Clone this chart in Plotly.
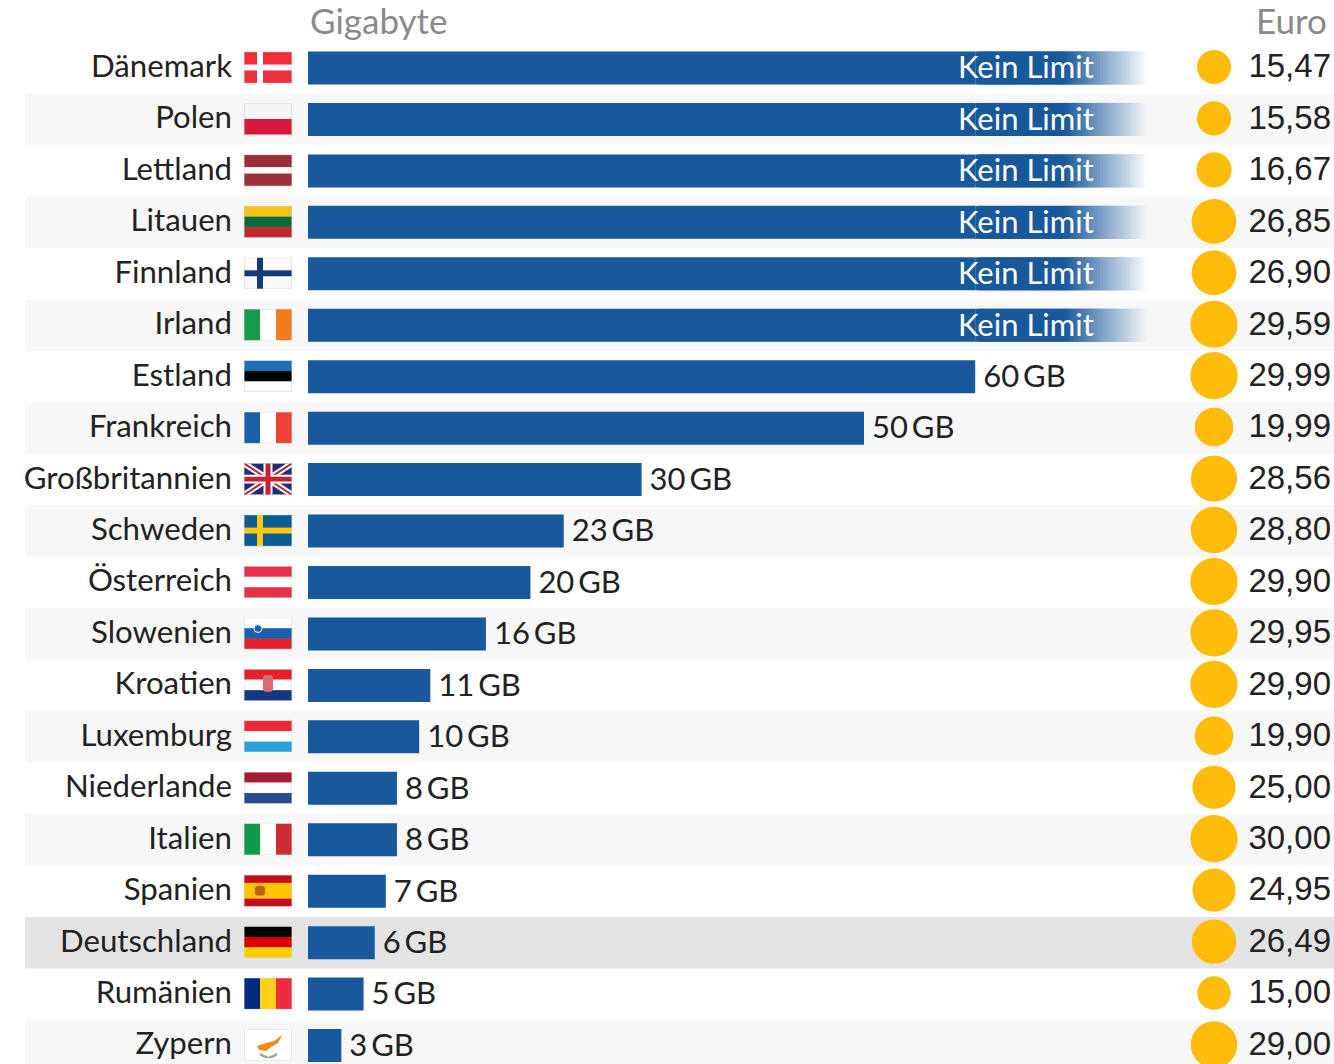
import base64
import plotly.graph_objects as go

# ---------- data ----------
countries = ["Dänemark","Polen","Lettland","Litauen","Finnland","Irland","Estland","Frankreich",
             "Großbritannien","Schweden","Österreich","Slowenien","Kroatien","Luxemburg",
             "Niederlande","Italien","Spanien","Deutschland","Rumänien","Zypern"]
gigabyte = [None,None,None,None,None,None,60,50,30,23,20,16,11,10,8,8,7,6,5,3]
gb_labels = ["Kein Limit"]*6 + ["60\u2009GB","50\u2009GB","30\u2009GB","23\u2009GB","20\u2009GB","16\u2009GB",
             "11\u2009GB","10\u2009GB","8\u2009GB","8\u2009GB","7\u2009GB","6\u2009GB","5\u2009GB","3\u2009GB"]
euro = [15.47,15.58,16.67,26.85,26.90,29.59,29.99,19.99,28.56,28.80,29.90,29.95,29.90,19.90,25.00,30.00,24.95,26.49,15.00,29.00]
euro_labels = ["15,47","15,58","16,67","26,85","26,90","29,59","29,99","19,99","28,56","28,80","29,90","29,95",
               "29,90","19,90","25,00","30,00","24,95","26,49","15,00","29,00"]
no_limit_solid = 60   # GB-equivalent length where the fade begins
no_limit_end = 76

# ---------- geometry ----------
W, H = 1334, 1064
PLOT_L = 233
X0_PX, PX_PER_GB = 308, 11.12
ROW_0, ROW_H = 68.0, 51.45
BLUE = (24, 88, 156)
GOLD = "#FDBB0A"

def xpx(px):
    return (px - X0_PX) / PX_PER_GB

def stripes_h(*cols):
    h = 32 / len(cols)
    return "".join(f'<rect x="0" y="{i*h}" width="48" height="{h+.2}" fill="{c}"/>' for i, c in enumerate(cols))

def stripes_v(*cols):
    w = 48 / len(cols)
    return "".join(f'<rect x="{i*w}" y="0" width="{w+.2}" height="32" fill="{c}"/>' for i, c in enumerate(cols))

def cross(bg, fg, t=7):
    return (f'<rect width="48" height="32" fill="{bg}"/><rect x="13" width="{t}" height="32" fill="{fg}"/>'
            f'<rect y="{16-t/2}" width="48" height="{t}" fill="{fg}"/>')

uk = ('<rect width="48" height="32" fill="#1f2f78"/>'
      '<path d="M0 0L48 32M48 0L0 32" stroke="#fff" stroke-width="6"/>'
      '<path d="M0 0L48 32M48 0L0 32" stroke="#c8202f" stroke-width="2"/>'
      '<path d="M24 0V32M0 16H48" stroke="#fff" stroke-width="9"/>'
      '<path d="M24 0V32M0 16H48" stroke="#c8202f" stroke-width="5"/>')

flags = {
    "Dänemark": cross("#ee2f3c", "#fff", 6),
    "Polen": stripes_h("#f5f5f5", "#d8193f"),
    "Lettland": stripes_h("#9b2f3c", "#9b2f3c", "#fff", "#9b2f3c", "#9b2f3c"),
    "Litauen": stripes_h("#fbbf16", "#0e6b3c", "#c2272d"),
    "Finnland": cross("#fafafa", "#123a7a", 6),
    "Irland": stripes_v("#169b4d", "#fff", "#f47b20"),
    "Estland": stripes_h("#1f6fb5", "#000", "#fff"),
    "Frankreich": stripes_v("#1a5ea8", "#fff", "#ef4135"),
    "Großbritannien": uk,
    "Schweden": cross("#0b5c94", "#fdc80f", 6),
    "Österreich": stripes_h("#e8304a", "#fff", "#e8304a"),
    "Slowenien": stripes_h("#fff", "#1c5fae", "#e4212b") + '<circle cx="14" cy="11" r="4" fill="#1c5fae" stroke="#fff"/>',
    "Kroatien": stripes_h("#e4212b", "#fff", "#16397f") + '<rect x="19" y="6" width="10" height="17" rx="3" fill="#dd6a72"/>',
    "Luxemburg": stripes_h("#ed2939", "#fff", "#2ca0dc"),
    "Niederlande": stripes_h("#a51f34", "#fff", "#2a4a8a"),
    "Italien": stripes_v("#109a50", "#fff", "#ce2b37"),
    "Spanien": stripes_h("#c60b1e", "#ffc400", "#ffc400", "#c60b1e") + '<rect x="11" y="11" width="10" height="10" rx="3" fill="#b8661a"/>',
    "Deutschland": stripes_h("#000", "#dd0000", "#ffce00"),
    "Rumänien": stripes_v("#002b7f", "#fcd116", "#ef2b3f"),
    "Zypern": '<rect width="48" height="32" fill="#fff"/><path d="M13 17L22 14L30 12L38 6L34 14L27 18L22 22L15 21Z" fill="#f08a1d"/>'
              '<path d="M16 25Q22 29 24 28M33 25Q28 29 25 28" stroke="#8fae8c" stroke-width="2.5" fill="none"/>',
}

def flag_uri(name):
    svg = (f'<svg xmlns="http://www.w3.org/2000/svg" viewBox="0 0 48 32" width="192" height="128" preserveAspectRatio="none">'
           f'{flags[name]}<rect x=".2" y=".2" width="47.6" height="31.6" fill="none" stroke="#cfcfcf" stroke-width=".5"/></svg>')
    return "data:image/svg+xml;base64," + base64.b64encode(svg.encode()).decode()

n = len(countries)
rows = list(range(n))
BAR_W = 33 / ROW_H

fig = go.Figure()

# solid bars
bar_x = [no_limit_solid if g is None else g for g in gigabyte]
fig.add_trace(go.Bar(y=rows, x=bar_x, orientation="h", width=BAR_W,
                     marker=dict(color="rgb(%d,%d,%d)" % BLUE, line_width=0),
                     hoverinfo="skip", showlegend=False))

# fade of the "Kein Limit" bars: short overlapping bars, each paler than the last,
# blending into the colour of the row band
steps = 60
step = (no_limit_end - no_limit_solid) / steps
fy, fx, fb, fc = [], [], [], []
for s in range(steps):
    t = (s + .5) / steps
    a = max(0.0, 1 - (t - .5) / .47) if t > .5 else 1.0
    for r, g in zip(rows, gigabyte):
        if g is not None:
            continue
        bg = 247 if r % 2 == 1 else 255
        col = [round(bg + (c - bg) * a) for c in BLUE]
        fy.append(r); fb.append(no_limit_solid + s * step); fx.append(2 * step)
        fc.append(f"rgb({col[0]},{col[1]},{col[2]})")
fig.add_trace(go.Bar(y=fy, x=fx, base=fb, orientation="h", width=BAR_W,
                     marker=dict(color=fc, line_width=0), hoverinfo="skip", showlegend=False))

# labels beside / inside bars
fig.add_trace(go.Scatter(x=[xpx(958) if g is None else g + 8/PX_PER_GB for g in gigabyte],
                         y=[r + .05 for r in rows], mode="text",
                         text=gb_labels, textposition="middle right",
                         textfont=dict(family="Lato", size=31,
                                       color=["#ffffff" if g is None else "#222222" for g in gigabyte]),
                         hoverinfo="skip", showlegend=False, cliponaxis=False))

# euro circles
fig.add_trace(go.Scatter(x=[xpx(1214)]*n, y=[r - .02 for r in rows], mode="markers",
                         marker=dict(size=euro, sizemode="area", sizeref=2/8.64**2, color=GOLD, line_width=0, opacity=1),
                         hoverinfo="skip", showlegend=False))
# euro labels
fig.add_trace(go.Scatter(x=[xpx(1331)]*n, y=[r + .02 for r in rows], mode="text", text=euro_labels, textposition="middle left",
                         textfont=dict(family="Liberation Sans", size=33, color="#222222"),
                         hoverinfo="skip", showlegend=False, cliponaxis=False))

shapes = []
for r in rows:
    name = countries[r]
    if name == "Deutschland":
        col = "#e3e3e3"
    elif r % 2 == 1:
        col = "#f7f7f7"
    else:
        continue
    shapes.append(dict(type="rect", xref="paper", yref="y", layer="below",
                       x0=(25 - PLOT_L) / (W - PLOT_L), x1=1, y0=r - .5, y1=r + .5,
                       fillcolor=col, line_width=0))

images = [dict(source=flag_uri(c), xref="x", yref="y", x=xpx(244), y=r - .01, sizex=48/PX_PER_GB, sizey=31.5/ROW_H,
               xanchor="left", yanchor="middle", sizing="stretch", layer="above")
          for r, c in zip(rows, countries)]

annotations = [
    dict(text="Gigabyte", xref="paper", yref="paper", x=(308-PLOT_L)/(W-PLOT_L), y=1-20/H, xanchor="left", yanchor="middle",
         showarrow=False, font=dict(family="Lato", size=35, color="#8a8a8a")),
    dict(text="Euro", xref="paper", yref="paper", x=(1329-PLOT_L)/(W-PLOT_L), y=1-20/H, xanchor="right", yanchor="middle",
         showarrow=False, font=dict(family="Lato", size=35, color="#8a8a8a")),
]

fig.update_layout(
    width=W, height=H, margin=dict(l=PLOT_L, r=0, t=0, b=0), autosize=False,
    paper_bgcolor="#ffffff", plot_bgcolor="rgba(0,0,0,0)", barmode="overlay", showlegend=False,
    xaxis=dict(visible=False, range=[xpx(PLOT_L), xpx(W)], fixedrange=True),
    yaxis=dict(range=[(H - ROW_0) / ROW_H, -ROW_0 / ROW_H], tickmode="array", tickvals=rows, ticktext=countries,
               tickfont=dict(family="Lato", size=31.2, color="#222222"), ticks="", showgrid=False, zeroline=False,
               ticklabelshift=2, showline=False, fixedrange=True, automargin=False),
    shapes=shapes, images=images, annotations=annotations,
)

fig.write_html("out.html", config={"displayModeBar": False},
               post_script="document.body.style.margin='0';document.documentElement.style.overflow='hidden';")
